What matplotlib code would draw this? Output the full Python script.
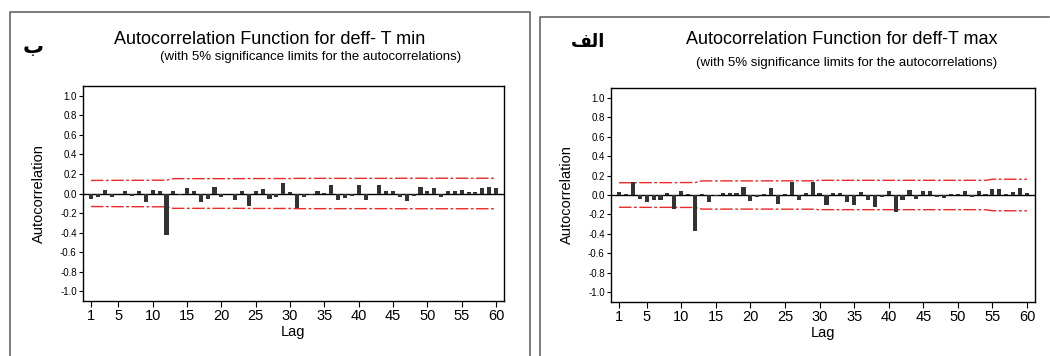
import matplotlib
matplotlib.use('Agg')
import matplotlib.pyplot as plt
from matplotlib.lines import Line2D

plt.rcParams['font.family'] = ['Liberation Sans', 'DejaVu Sans']

# datos
lags = list(range(1, 61))
acf_tmin = [-0.06, -0.035, 0.04, -0.04, -0.01, 0.03, -0.03, 0.03, -0.09, 0.04,
            0.025, -0.42, 0.03, -0.015, 0.06, 0.025, -0.09, -0.06, 0.07, -0.04,
            -0.005, -0.07, 0.025, -0.13, 0.025, 0.05, -0.06, -0.04, 0.11, 0.015,
            -0.15, -0.035, -0.015, 0.025, 0.005, 0.09, -0.07, -0.045, -0.025, 0.09,
            -0.07, -0.005, 0.09, 0.025, 0.025, -0.04, -0.08, -0.025, 0.07, 0.03,
            0.06, -0.04, 0.025, 0.025, 0.04, 0.015, 0.015, 0.06, 0.07, 0.06]
lim_tmin = [0.133, 0.134, 0.134, 0.134, 0.135, 0.135, 0.135, 0.135, 0.135, 0.136,
            0.136, 0.136, 0.152, 0.152, 0.152, 0.152, 0.152, 0.152, 0.152, 0.152,
            0.152, 0.152, 0.152, 0.153, 0.153, 0.153, 0.153, 0.153, 0.153, 0.153,
            0.155, 0.155, 0.155, 0.155, 0.155, 0.155, 0.155, 0.155, 0.155, 0.155,
            0.155, 0.155, 0.155, 0.155, 0.155, 0.156, 0.156, 0.156, 0.156, 0.156,
            0.156, 0.156, 0.156, 0.156, 0.156, 0.156, 0.156, 0.156, 0.156, 0.156]

acf_tmax = [0.03, 0.01, 0.13, -0.04, -0.07, -0.05, -0.05, 0.02, -0.14, 0.04,
            0.015, -0.37, 0.015, -0.075, -0.01, 0.02, 0.025, 0.025, 0.085, -0.065,
            -0.02, 0.01, 0.07, -0.095, 0.01, 0.13, -0.05, 0.02, 0.13, 0.02,
            -0.105, 0.02, 0.02, -0.07, -0.105, 0.03, -0.05, -0.125, -0.025, 0.04,
            -0.175, -0.05, 0.055, -0.04, 0.04, 0.04, -0.025, -0.035, 0.01, 0.01,
            0.045, -0.02, 0.04, 0.01, 0.06, 0.06, 0.015, 0.03, 0.07, 0.025]
lim_tmax = [0.126, 0.126, 0.126, 0.127, 0.127, 0.127, 0.127, 0.127, 0.127, 0.128,
            0.128, 0.128, 0.145, 0.145, 0.145, 0.145, 0.145, 0.145, 0.145, 0.145,
            0.145, 0.145, 0.145, 0.145, 0.146, 0.146, 0.146, 0.146, 0.146, 0.151,
            0.151, 0.151, 0.151, 0.151, 0.151, 0.151, 0.151, 0.151, 0.151, 0.151,
            0.151, 0.151, 0.151, 0.151, 0.151, 0.151, 0.151, 0.151, 0.151, 0.151,
            0.151, 0.151, 0.151, 0.151, 0.162, 0.162, 0.162, 0.162, 0.162, 0.162]

yticks = [-1.0, -0.8, -0.6, -0.4, -0.2, 0.0, 0.2, 0.4, 0.6, 0.8, 1.0]
xticks = [1, 5, 10, 15, 20, 25, 30, 35, 40, 45, 50, 55, 60]

W, H = 1050, 356
fig = plt.figure(figsize=(W / 100, H / 100), dpi=100)


def caja(x0, y0, x1, y1):
    # pasa pixeles (origen arriba-izquierda) a coordenadas de figura
    return [x0 / W, 1 - y1 / H, (x1 - x0) / W, (y1 - y0) / H]


def px(x, y):
    return x / W, 1 - y / H


def panel(rect, acf, lim):
    ax = fig.add_axes(caja(*rect))
    ax.bar(lags, acf, width=0.6, color='#333333', zorder=3)
    ax.axhline(0, color='black', lw=1, zorder=2)
    ax.plot(lags, lim, color='#e82a2a', lw=1, ls=(0, (9, 1.8, 2, 1.8)))
    ax.plot(lags, [-v for v in lim], color='#e82a2a', lw=1, ls=(0, (9, 1.8, 2, 1.8)))
    ax.set_xlim(-0.16, 61.16)
    ax.set_ylim(-1.1, 1.1)
    ax.set_yticks(yticks)
    ax.set_yticklabels(['%.1f' % v for v in yticks], fontsize=7)
    ax.set_xticks(xticks)
    ax.set_xticklabels([str(v) for v in xticks], fontsize=10.5)
    ax.tick_params(axis='y', length=3, width=0.8, pad=1.5)
    ax.tick_params(axis='x', length=4, width=0.8, pad=2)
    ax.set_xlabel('Lag', fontsize=10.5, labelpad=1)
    ax.set_ylabel('Autocorrelation', fontsize=10.5, labelpad=10)
    for s in ax.spines.values():
        s.set_linewidth(1)
    return ax


panel((83, 86, 504, 301), acf_tmin, lim_tmin)
panel((611, 88, 1035, 302), acf_tmax, lim_tmax)

# marcos de cada panel
gris = '#666666'
for xs, ys in [([10, 10, 530, 530], [360, 12, 12, 360]),
               ([540, 540, 1049], [360, 17, 17])]:
    pts = [px(x, y) for x, y in zip(xs, ys)]
    fig.add_artist(Line2D([p[0] for p in pts], [p[1] for p in pts],
                          color=gris, lw=1.2))

# titulos
fig.text(*px(270, 40), 'Autocorrelation Function for deff- T min', fontsize=13,
         ha='center', va='center')
fig.text(*px(311, 57), '(with 5% significance limits for the autocorrelations)',
         fontsize=9.5, ha='center', va='center')
fig.text(*px(842, 40), 'Autocorrelation Function for deff-T max', fontsize=13,
         ha='center', va='center')
fig.text(*px(847, 63), '(with 5% significance limits for the autocorrelations)',
         fontsize=9.5, ha='center', va='center')

# letras arabes (formas de presentacion para que salgan unidas y de derecha a izquierda)
fig.text(*px(33, 47), '\u0628', fontsize=15, fontweight='bold',
         family=['DejaVu Sans'], ha='center', va='center')
fig.text(*px(588, 42), '\uFED2\uFEDF\uFE8D', fontsize=13, fontweight='bold',
         family=['DejaVu Sans'], ha='center', va='center')

fig.savefig('out.png', dpi=100)
